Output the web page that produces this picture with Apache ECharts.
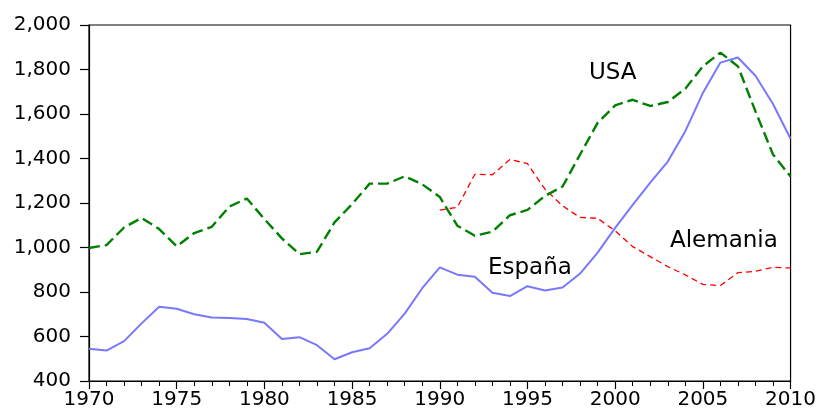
<!DOCTYPE html>
<html>
<head>
<meta charset="utf-8">
<script src="https://cdn.jsdelivr.net/npm/echarts@6/dist/echarts.min.js"></script>
<style>
  html, body { margin: 0; padding: 0; background: #fff; }
  #chart { width: 819px; height: 410px; }
</style>
</head>
<body>
<div id="chart"></div>
<script>
// years 1970..2010
const years = [1970, 1971, 1972, 1973, 1974, 1975, 1976, 1977, 1978, 1979,
  1980, 1981, 1982, 1983, 1984, 1985, 1986, 1987, 1988, 1989,
  1990, 1991, 1992, 1993, 1994, 1995, 1996, 1997, 1998, 1999,
  2000, 2001, 2002, 2003, 2004, 2005, 2006, 2007, 2008, 2009, 2010]

const usa = [998, 1011, 1090, 1133, 1083, 1005, 1065, 1093, 1184, 1220,
  1128, 1041, 970, 981, 1113, 1195, 1287, 1287, 1320, 1284,
  1227, 1098, 1053, 1071, 1145, 1169, 1232, 1274, 1418, 1560,
  1639, 1664, 1636, 1654, 1714, 1814, 1876, 1814, 1612, 1418, 1319]

const espana = [545, 537, 579, 659, 734, 725, 700, 685, 683, 679,
  662, 589, 597, 561, 498, 529, 547, 612, 703, 817,
  911, 878, 869, 797, 782, 826, 807, 820, 883, 977,
  1088, 1192, 1292, 1386, 1523, 1694, 1831, 1854, 1772, 1645, 1489]

// Alemania empieza en 1990
const alemania = [null, null, null, null, null, null, null, null, null, null,
  null, null, null, null, null, null, null, null, null, null,
  1168, 1181, 1329, 1327, 1396, 1377, 1262, 1187, 1135, 1131,
  1075, 1004, 959, 914, 877, 834, 829, 887, 893, 911, 908]

const pairs = vals => years.map((y, i) => [y, vals[i]])

const chart = echarts.init(document.getElementById('chart'))
const FONT = 'DejaVu Sans'

chart.setOption({
  animation: false,
  grid: { left: 89, right: 28, top: 25, bottom: 27, show: true, borderColor: '#000', borderWidth: 1.2 },
  xAxis: {
    type: 'value', min: 1970, max: 2010, interval: 5,
    axisLine: { lineStyle: { color: '#000', width: 1.2 } },
    axisTick: { length: 8, lineStyle: { color: '#000', width: 1.2 } },
    minorTick: { show: true, splitNumber: 5, length: 5, lineStyle: { color: '#000', width: 1 } },
    splitLine: { show: false },
    axisLabel: { color: '#000', fontFamily: FONT, fontSize: 20, margin: 9, formatter: v => String(v) }
  },
  yAxis: {
    type: 'value', min: 400, max: 2000, interval: 200,
    axisLine: { show: true, lineStyle: { color: '#000', width: 1.2 } },
    axisTick: { show: true, length: 9, lineStyle: { color: '#000', width: 1.2 } },
    splitLine: { show: false },
    axisLabel: { color: '#000', fontFamily: FONT, fontSize: 20, margin: 18,
      formatter: v => v.toLocaleString('en-US') }
  },
  series: [
    { name: 'Alemania', type: 'line', data: pairs(alemania), showSymbol: false,
      connectNulls: false, lineStyle: { color: '#ff0000', width: 1.3, type: [6, 4] } },
    { name: 'USA', type: 'line', data: pairs(usa), showSymbol: false,
      lineStyle: { color: '#008000', width: 2.4, type: [11, 5] } },
    { name: 'España', type: 'line', data: pairs(espana), showSymbol: false,
      lineStyle: { color: '#7878ff', width: 2 } }
  ],
  graphic: [
    { type: 'text', x: 589, y: 73, style: { text: 'USA', fontFamily: FONT, fontSize: 23, fill: '#000', textVerticalAlign: 'middle' } },
    { type: 'text', x: 488, y: 268, style: { text: 'España', fontFamily: FONT, fontSize: 23, fill: '#000', textVerticalAlign: 'middle' } },
    { type: 'text', x: 670, y: 241, style: { text: 'Alemania', fontFamily: FONT, fontSize: 23, fill: '#000', textVerticalAlign: 'middle' } }
  ]
})
</script>
</body>
</html>
